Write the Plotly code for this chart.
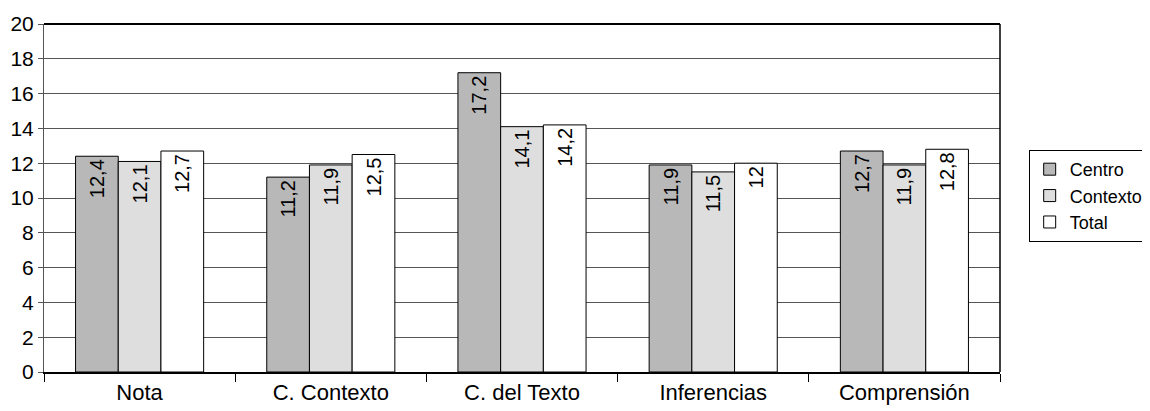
import plotly.graph_objects as go

categories = ["Nota", "C. Contexto", "C. del Texto", "Inferencias", "Comprensión"]
centro = [12.4, 11.2, 17.2, 11.9, 12.7]
contexto = [12.1, 11.9, 14.1, 11.5, 11.9]
total = [12.7, 12.5, 14.2, 12.0, 12.8]
y_ticks = list(range(0, 21, 2))

def fmt(v):
    s = ("%.1f" % v).rstrip("0").rstrip(".")
    return s.replace(".", ",")

series = [("Centro", centro, "#b8b8b8"), ("Contexto", contexto, "#dedede"), ("Total", total, "#ffffff")]

fig = go.Figure()
for name, vals, col in series:
    fig.add_trace(go.Bar(
        x=categories, y=vals, name=name,
        marker=dict(color=col, line=dict(color="#000000", width=1)),
        text=[fmt(v) for v in vals], textposition="inside", insidetextanchor="end",
        textangle=-90, textfont=dict(size=20, color="#000000"),
        constraintext="none",
    ))

fig.update_layout(
    width=1170, height=403,
    margin=dict(l=36, r=178, t=16, b=39),
    paper_bgcolor="white", plot_bgcolor="white",
    font=dict(family="Liberation Sans, Arial, sans-serif", size=20, color="#000000"),
    barmode="group", bargap=0.33, bargroupgap=0,
    showlegend=True,
    legend=dict(x=1.03, y=0.638, xanchor="left", yanchor="top",
                bordercolor="#000000", borderwidth=1, bgcolor="white",
                font=dict(size=18), tracegroupgap=0, itemwidth=30),
    xaxis=dict(showline=True, linecolor="#000000", linewidth=2, automargin=False,
               ticks="outside", tickson="boundaries", ticklen=8, tickcolor="#000000",
               showgrid=False, mirror=False, tickfont=dict(size=22)),
    yaxis=dict(range=[0, 20], tickvals=y_ticks, showgrid=True, gridcolor="#555555", gridwidth=1,
               showline=True, linecolor="#555555", linewidth=1, automargin=False,
               ticks="outside", ticklen=5, tickcolor="#555555", zeroline=False,
               tickfont=dict(size=21)),
)
# Top and right border of the plot area
fig.add_shape(type="line", xref="paper", yref="paper", x0=0, x1=1, y0=1, y1=1,
              line=dict(color="#000000", width=2))
fig.add_shape(type="line", xref="paper", yref="paper", x0=1, x1=1, y0=0, y1=1,
              line=dict(color="#000000", width=1.5))

fig.write_html("out.html")
